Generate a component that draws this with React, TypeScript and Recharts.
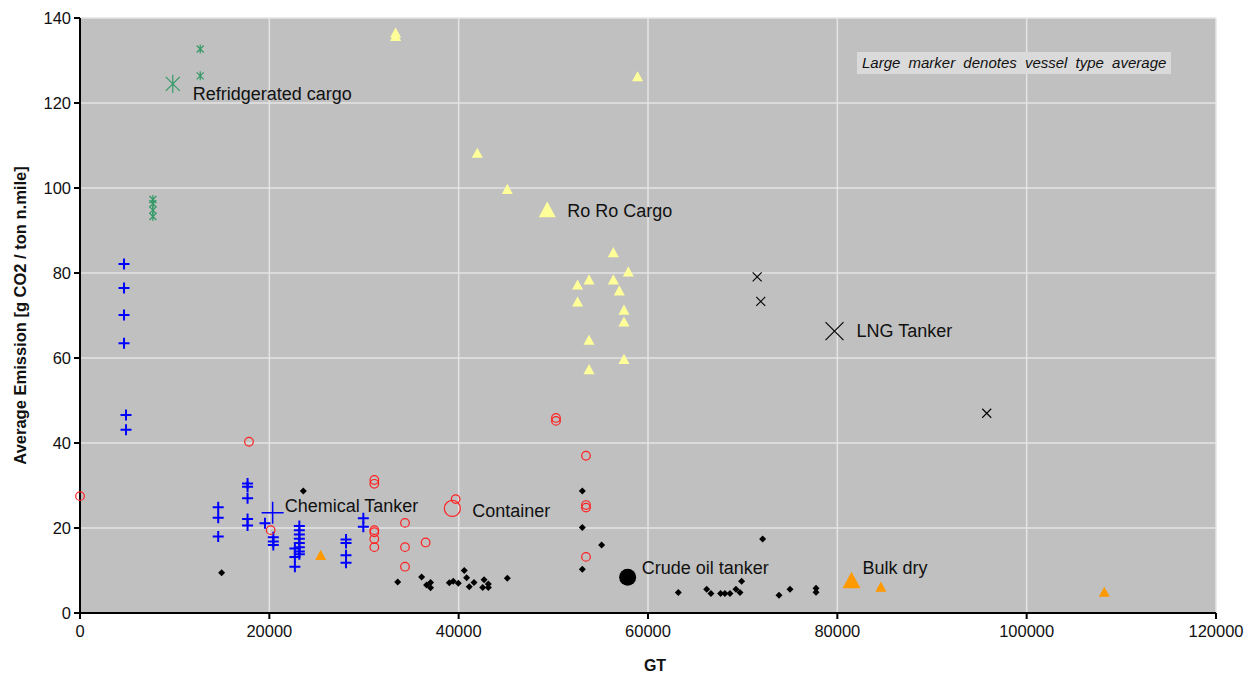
import React from "react";
import { ScatterChart, Scatter, XAxis, YAxis, CartesianGrid, Label } from "recharts";

// axis ticks
const xTicks = [0, 20000, 40000, 60000, 80000, 100000, 120000];
const yTicks = [0, 20, 40, 60, 80, 100, 120, 140];

// Refridgerated cargo
const refrigGT = [12700, 12700, 7700, 7700, 7700, 7700];
const refrigEm = [132.7, 126.4, 97.3, 96.3, 94.8, 93.3];
const refrigAvg = { gt: 9800, em: 124.5 };

// Chemical tanker
const chemGT = [
  4650, 4650, 4650, 4650, 4860, 4860, 14600, 14600, 14600, 17700, 17700, 17700, 17700, 17700, 19540,
  20420, 20420, 20420, 22700, 22700, 22700, 23170, 23170, 23170, 23170, 23170, 23170, 23170, 23170,
  28100, 28100, 28100, 28100, 29930, 29930,
];
const chemEm = [
  82.1, 76.5, 70.1, 63.5, 46.6, 43.1, 24.9, 22.4, 18.0, 30.5, 29.7, 27.0, 22.1, 20.6, 21.1,
  17.8, 16.8, 16.0, 15.2, 13.2, 10.9, 20.5, 19.5, 18.5, 17.5, 16.5, 15.5, 14.5, 13.8,
  17.3, 16.5, 13.6, 11.8, 22.3, 20.3,
];
const chemAvg = { gt: 20350, em: 23.6 };

// Container
const contGT = [0, 17850, 20140, 31090, 31090, 31090, 31090, 31090, 31090, 34330, 34330, 34330, 36510, 39680, 50280, 50280, 53450, 53450, 53450, 53450];
const contEm = [27.5, 40.3, 19.5, 31.3, 30.4, 19.5, 19.0, 17.4, 15.5, 21.2, 15.5, 10.9, 16.6, 26.8, 45.9, 45.2, 37.0, 25.4, 24.8, 13.2];
const contAvg = { gt: 39330, em: 24.6 };

// Crude oil tanker
const crudeGT = [
  14960, 23590, 33560, 36090, 36610, 37030, 37030, 39010, 39430, 39960, 40590, 40840, 41120, 41620,
  42540, 42680, 43130, 43130, 45140, 53060, 53060, 53060, 55100, 63200, 66200, 66650, 67670, 68130,
  68660, 69290, 69720, 69890, 72110, 73840, 75000, 77750, 77750,
];
const crudeEm = [
  9.5, 28.7, 7.3, 8.5, 6.6, 7.2, 5.95, 7.1, 7.5, 7.0, 10.0, 8.3, 6.2, 7.2,
  6.0, 7.8, 6.8, 6.0, 8.2, 28.7, 20.1, 10.3, 16.0, 4.8, 5.6, 4.6, 4.6, 4.6,
  4.6, 5.6, 4.8, 7.5, 17.4, 4.2, 5.6, 5.8, 4.9,
];
const crudeAvg = { gt: 57850, em: 8.4 };

// Ro Ro cargo
const roroGT = [33340, 33340, 58900, 41970, 45140, 56340, 57920, 53770, 52560, 56340, 56970, 52560, 57460, 57460, 53770, 57460, 53770];
const roroEm = [136.5, 135.7, 126.2, 108.2, 99.7, 84.8, 80.3, 78.4, 77.2, 78.4, 75.8, 73.2, 71.3, 68.5, 64.2, 59.7, 57.3];
const roroAvg = { gt: 49360, em: 94.8 };

// LNG tanker
const lngGT = [71530, 71910, 95780];
const lngEm = [79.1, 73.3, 47.0];
const lngAvg = { gt: 79700, em: 66.3 };

// Bulk dry
const bulkGT = [25420, 84600, 108200];
const bulkEm = [13.6, 6.1, 4.9];
const bulkAvg = { gt: 81500, em: 7.6 };

const toPoints = (gt: number[], em: number[]) => gt.map((g, i) => ({ gt: g, em: em[i] }));

const FONT = "'Liberation Sans', Arial, sans-serif";

type P = { cx?: number; cy?: number };

const plus = (s: number, color: string, w: number) => ({ cx = 0, cy = 0 }: P) => (
  <path d={`M${cx - s} ${cy}H${cx + s}M${cx} ${cy - s}V${cy + s}`} stroke={color} strokeWidth={w} fill="none" />
);
const cross = (s: number, color: string, w: number) => ({ cx = 0, cy = 0 }: P) => (
  <path d={`M${cx - s} ${cy - s}L${cx + s} ${cy + s}M${cx - s} ${cy + s}L${cx + s} ${cy - s}`} stroke={color} strokeWidth={w} fill="none" />
);
const star = (s: number, color: string, w: number) => ({ cx = 0, cy = 0 }: P) => (
  <path
    d={`M${cx - s} ${cy - s}L${cx + s} ${cy + s}M${cx - s} ${cy + s}L${cx + s} ${cy - s}M${cx} ${cy - s * 1.3}V${cy + s * 1.3}`}
    stroke={color} strokeWidth={w} fill="none"
  />
);
const ring = (r: number, color: string) => ({ cx = 0, cy = 0 }: P) => (
  <circle cx={cx} cy={cy} r={r} stroke={color} strokeWidth={1.2} fill="none" />
);
const dot = (r: number, color: string) => ({ cx = 0, cy = 0 }: P) => <circle cx={cx} cy={cy} r={r} fill={color} />;
const diamond = (s: number, color: string) => ({ cx = 0, cy = 0 }: P) => (
  <path d={`M${cx} ${cy - s}L${cx + s} ${cy}L${cx} ${cy + s}L${cx - s} ${cy}Z`} fill={color} />
);
const tri = (s: number, color: string) => ({ cx = 0, cy = 0 }: P) => (
  <path d={`M${cx} ${cy - s}L${cx + s} ${cy + s * 0.85}L${cx - s} ${cy + s * 0.85}Z`} fill={color} />
);

const withLabel = (draw: (p: P) => React.ReactElement, text: string, dx: number, dy: number) => (p: P) => (
  <g>
    {draw(p)}
    <text x={(p.cx ?? 0) + dx} y={(p.cy ?? 0) + dy} dominantBaseline="central" fontFamily={FONT} fontSize={18} fill="#111">
      {text}
    </text>
  </g>
);

const GREEN = "#339966";
const BLUE = "#0000FF";
const RED = "#FF2020";
const YELLOW = "#FFFF99";
const ORANGE = "#FF9900";

export default function App() {
  return (
    <div style={{ position: "absolute", left: 0, top: 0, width: 1256, height: 675, background: "#fff" }}>
      <ScatterChart width={1256} height={675} margin={{ top: 18, right: 40, bottom: 0, left: 0 }}>
        <CartesianGrid fill="#C0C0C0" stroke="#E4E4E4" strokeWidth={1.5} />
        <XAxis
          type="number"
          dataKey="gt"
          domain={[0, 120000]}
          ticks={xTicks}
          interval={0}
          height={62}
          tickSize={6}
          tickMargin={6}
          axisLine={{ stroke: "#000", strokeWidth: 2 }}
          tickLine={{ stroke: "#000", strokeWidth: 2 }}
          tick={{ fill: "#111", fontSize: 16.5, fontFamily: FONT }}
        >
          <Label
            content={(props: any) => {
              const vb = props.viewBox || { x: 80, y: 613, width: 1136, height: 62 };
              return (
                <text x={vb.x + vb.width / 2 + 7} y={vb.y + 52} textAnchor="middle" dominantBaseline="central"
                  fontFamily={FONT} fontSize={16} fontWeight="bold" fill="#111">
                  GT
                </text>
              );
            }}
          />
        </XAxis>
        <XAxis xAxisId="top" orientation="top" type="number" dataKey="gt" domain={[0, 120000]} ticks={xTicks}
          height={0} tick={false} tickLine={false} axisLine={{ stroke: "#404040", strokeWidth: 1.5 }} />
        <YAxis
          type="number"
          dataKey="em"
          domain={[0, 140]}
          ticks={yTicks}
          interval={0}
          width={80}
          tickSize={6}
          tickMargin={3}
          axisLine={{ stroke: "#000", strokeWidth: 2 }}
          tickLine={{ stroke: "#000", strokeWidth: 2 }}
          tick={{ fill: "#111", fontSize: 16.5, fontFamily: FONT }}
        >
          <Label
            content={(props: any) => {
              const vb = props.viewBox || { x: 0, y: 18, width: 80, height: 595 };
              const cx = vb.x + 20;
              const cy = vb.y + vb.height / 2;
              return (
                <text x={cx} y={cy} transform={`rotate(-90 ${cx} ${cy})`} textAnchor="middle" dominantBaseline="central"
                  fontFamily={FONT} fontSize={16.5} fontWeight="bold" fill="#111">
                  Average Emission  [g CO2 / ton n.mile]
                </text>
              );
            }}
          />
        </YAxis>
        <YAxis yAxisId="right" orientation="right" type="number" dataKey="em" domain={[0, 140]} ticks={yTicks}
          width={0} tick={false} tickLine={false} axisLine={{ stroke: "#404040", strokeWidth: 1.5 }} />

        <Scatter name="Refridgerated cargo" data={toPoints(refrigGT, refrigEm)} shape={star(3.5, GREEN, 1.2)} isAnimationActive={false} />
        <Scatter data={[refrigAvg]} shape={withLabel(star(7, GREEN, 1.2), "Refridgerated cargo", 20, 10)} isAnimationActive={false} />

        <Scatter name="Chemical Tanker" data={toPoints(chemGT, chemEm)} shape={plus(5.5, BLUE, 2)} isAnimationActive={false} />
        <Scatter data={[chemAvg]} shape={withLabel(plus(11, BLUE, 1.5), "Chemical Tanker", 12, -7)} isAnimationActive={false} />

        <Scatter name="Container" data={toPoints(contGT, contEm)} shape={ring(4.3, RED)} isAnimationActive={false} />
        <Scatter data={[contAvg]} shape={withLabel(ring(8, RED), "Container", 20, 3)} isAnimationActive={false} />

        <Scatter name="Crude oil tanker" data={toPoints(crudeGT, crudeEm)} shape={diamond(3.5, "#000")} isAnimationActive={false} />
        <Scatter data={[crudeAvg]} shape={withLabel(dot(8.5, "#000"), "Crude oil tanker", 14, -9)} isAnimationActive={false} />

        <Scatter name="Ro Ro Cargo" data={toPoints(roroGT, roroEm)} shape={tri(5.5, YELLOW)} isAnimationActive={false} />
        <Scatter data={[roroAvg]} shape={withLabel(tri(8.5, YELLOW), "Ro Ro Cargo", 20, 1)} isAnimationActive={false} />

        <Scatter name="LNG Tanker" data={toPoints(lngGT, lngEm)} shape={cross(4.5, "#000", 1.1)} isAnimationActive={false} />
        <Scatter data={[lngAvg]} shape={withLabel(cross(9, "#000", 1.1), "LNG Tanker", 22, 0)} isAnimationActive={false} />

        <Scatter name="Bulk dry" data={toPoints(bulkGT, bulkEm)} shape={tri(5.5, ORANGE)} isAnimationActive={false} />
        <Scatter data={[bulkAvg]} shape={withLabel(tri(9, ORANGE), "Bulk dry", 11, -13)} isAnimationActive={false} />
      </ScatterChart>
      <div
        style={{
          position: "absolute",
          left: 857,
          top: 52,
          width: 314,
          height: 22,
          background: "#DADADA",
          fontFamily: FONT,
          fontStyle: "italic",
          fontSize: 15,
          lineHeight: "22px",
          color: "#111",
          paddingLeft: 5,
          boxSizing: "border-box",
          wordSpacing: 4,
          whiteSpace: "nowrap",
        }}
      >
        Large marker denotes vessel type average
      </div>
    </div>
  );
}
